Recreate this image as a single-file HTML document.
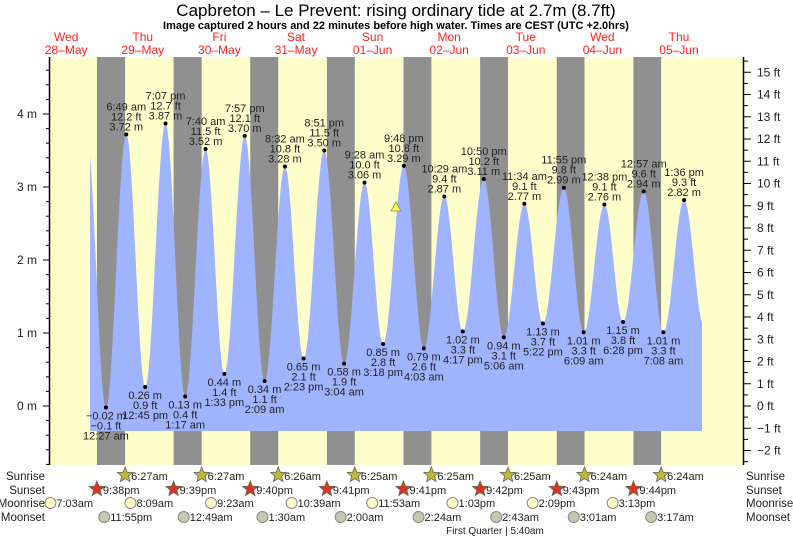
<!DOCTYPE html>
<html><head><meta charset="utf-8"><style>
body{margin:0;background:#fff;}
svg{display:block;font-family:"Liberation Sans",sans-serif;}
</style></head><body>
<svg id="s" width="793" height="539" xmlns="http://www.w3.org/2000/svg"></svg>
<script>
const s=document.getElementById('s');let h='';
const X=(d,hr)=>27.9+d*76.6+hr*3.19;
const Y=m=>406-m*73;
const t=(x,y,str,o)=>{o=o||{};h+=`<text x="${x}" y="${y}" font-size="${o.fs||11}" fill="${o.c||'#222'}" text-anchor="${o.a||'middle'}" ${o.b?'font-weight="bold"':''}>${str}</text>`;};
h+=`<rect x="50" y="57" width="693" height="408" fill="#ffffcc"/>`;
const sunset=[21.63,21.65,21.67,21.68,21.68,21.7,21.72,21.73];
const sunrise=[6.45,6.45,6.43,6.42,6.42,6.42,6.4,6.4];
for(let d=0;d<8;d++){const x1=X(d,sunset[d]),x2=X(d+1,sunrise[d]);h+=`<rect x="${x1}" y="57" width="${x2-x1}" height="408" fill="#909090"/>`;}
const T=[[0,18.4,3.70],[1,0.45,-0.02],[1,6.82,3.72],[1,12.75,0.26],[1,19.12,3.87],[2,1.28,0.13],[2,7.67,3.52],[2,13.55,0.44],[2,19.95,3.70],[3,2.15,0.34],[3,8.53,3.28],[3,14.38,0.65],[3,20.85,3.50],[4,3.07,0.58],[4,9.47,3.06],[4,15.3,0.85],[4,21.8,3.29],[5,4.05,0.79],[5,10.48,2.87],[5,16.28,1.02],[5,22.83,3.11],[6,5.1,0.94],[6,11.57,2.77],[6,17.37,1.13],[6,23.92,2.99],[7,6.15,1.01],[7,12.63,2.76],[7,18.47,1.15],[8,0.95,2.94],[8,7.13,1.01],[8,13.6,2.82],[8,19.8,1.1]];
const P=T.map(a=>[X(a[0],a[1]),a[2]]);
let pts=[];
for(let x=90;x<=702;x+=0.5){let i=0;while(i<P.length-2&&P[i+1][0]<x)i++;const [x0,m0]=P[i],[x1,m1]=P[i+1];const f=(x-x0)/(x1-x0);const m=m0+(m1-m0)*(1-Math.cos(Math.PI*f))/2;pts.push(x.toFixed(1)+','+Y(m).toFixed(1));}
h+=`<path d="M90,431 L${pts.join(' L')} L702,431 Z" fill="#a0b3ff"/>`;
for(let k=1;k<P.length-1;k++){const a=T[k],x=P[k][0],y=Y(a[2]);const hi=a[2]>2;
 let hh=Math.floor(a[1]),mm=Math.round((a[1]-hh)*60);if(mm==60){mm=0;hh++;}
 const ap=hh>=12?'pm':'am';let h12=hh%12;if(h12==0)h12=12;
 const ts=`${h12}:${String(mm).padStart(2,'0')} ${ap}`;
 const ms=(a[2]<0?'−0.02':a[2].toFixed(2))+' m';const ft=a[2]*3.2808;const fs=(ft<0?'−'+Math.abs(ft).toFixed(1):ft.toFixed(1))+' ft';
 h+=`<circle cx="${x}" cy="${y}" r="2" fill="#000"/>`;
 if(hi){t(x,y-24,ts);t(x,y-14,fs);t(x,y-4,ms);}else{t(x,y+12,ms);t(x,y+22,fs);t(x,y+32,ts);}
}
h+=`<polygon points="396,202 391,211 401,211" fill="#ffff40" stroke="#888" stroke-width="0.8"/>`;
h+=`<line x1="49.5" y1="57" x2="49.5" y2="465" stroke="#000" stroke-width="1.5"/><line x1="743.5" y1="57" x2="743.5" y2="465" stroke="#000" stroke-width="1.5"/>`;
for(let m=-0.8;m<=4.8;m+=0.2){const y=Y(m);if(y<57||y>465)continue;const maj=Math.abs(m-Math.round(m))<0.01;h+=`<line x1="${maj?43:46}" y1="${y}" x2="49" y2="${y}" stroke="#000"/>`;if(maj)t(37,y+4,Math.round(m)+' m',{a:'end',fs:12});}
for(let f=-3;f<=16;f+=0.5){const y=406-f*22.25;if(y<57||y>465)continue;const maj=f%1==0;h+=`<line x1="744" y1="${y}" x2="${maj?751:748}" y2="${y}" stroke="#000"/>`;if(maj)t(757,y+4,(f<0?'−'+(-f):f)+' ft',{a:'start',fs:12});}
t(396,16,'Capbreton – Le Prevent: rising  ordinary tide at 2.7m (8.7ft)',{fs:17,c:'#000'});
t(396,29,'Image captured 2 hours and 22 minutes before high water. Times are CEST (UTC +2.0hrs)',{fs:11,c:'#000',b:1});
const days=[['Wed','28–May'],['Thu','29–May'],['Fri','30–May'],['Sat','31–May'],['Sun','01–Jun'],['Mon','02–Jun'],['Tue','03–Jun'],['Wed','04–Jun'],['Thu','05–Jun']];
days.forEach((d,i)=>{const x=X(i,12);t(x,41,d[0],{c:'#ff2020',fs:12});t(x,54,d[1],{c:'#ff2020',fs:12});});
const rows=[['Sunrise',480],['Sunset',494],['Moonrise',507],['Moonset',521]];
rows.forEach(r=>{t(45,r[1],r[0],{a:'end',fs:11.5});t(746,r[1],r[0],{a:'start',fs:11.5});});
const star=(x,y,c)=>{let p=[];for(let i=0;i<10;i++){const a=-Math.PI/2+i*Math.PI/5,rr=i%2?3.5:8;p.push((x+rr*Math.cos(a)).toFixed(1)+','+(y+rr*Math.sin(a)).toFixed(1));}h+=`<polygon points="${p.join(' ')}" fill="${c}" stroke="#665" stroke-width="0.8"/>`;};
const sr=['6:27am','6:27am','6:26am','6:25am','6:25am','6:25am','6:24am','6:24am'];
sr.forEach((s0,i)=>{const x=X(i+1,sunrise[i]);star(x,475,'#c0b838');t(x+6,480,s0,{a:'start',fs:11});});
const ss=['9:38pm','9:39pm','9:40pm','9:41pm','9:41pm','9:42pm','9:43pm','9:44pm'];
ss.forEach((s0,i)=>{const x=X(i,sunset[i]);star(x,489,'#dd3322');t(x+6,494,s0,{a:'start',fs:11});});
const mr=[[0,7.05,'7:03am'],[1,8.15,'8:09am'],[2,9.38,'9:23am'],[3,10.65,'10:39am'],[4,11.88,'11:53am'],[5,13.05,'1:03pm'],[6,14.15,'2:09pm'],[7,15.22,'3:13pm']];
mr.forEach(a=>{const x=X(a[0],a[1]);h+=`<circle cx="${x}" cy="503" r="5.5" fill="#ffffcc" stroke="#888"/>`;t(x+6,507,a[2],{a:'start',fs:11});});
const ms2=[[0,23.92,'11:55pm'],[2,0.82,'12:49am'],[3,1.5,'1:30am'],[4,2,'2:00am'],[5,2.4,'2:24am'],[6,2.72,'2:43am'],[7,3.02,'3:01am'],[8,3.28,'3:17am']];
ms2.forEach(a=>{const x=X(a[0],a[1]);h+=`<circle cx="${x}" cy="517" r="5.5" fill="#c8c8b0" stroke="#888"/>`;t(x+6,521,a[2],{a:'start',fs:11});});
t(495,534,'First Quarter | 5:40am',{fs:10});
s.innerHTML=h;
</script>
</body></html>
